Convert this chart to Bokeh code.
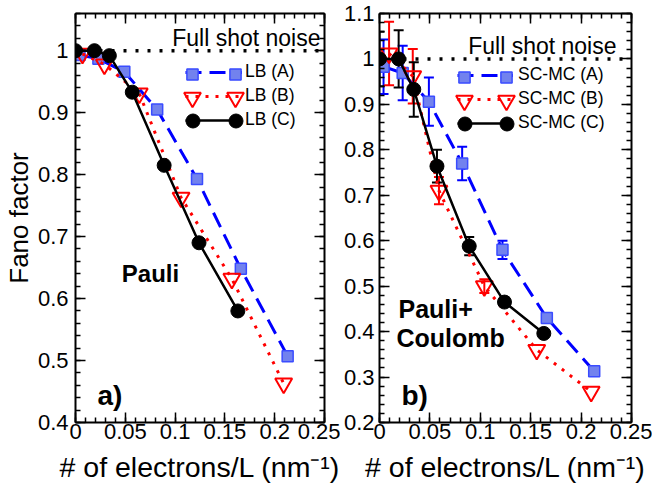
import numpy as np
from bokeh.plotting import figure
from bokeh.models import (Range1d, LinearAxis, FixedTicker, CustomJSTickFormatter, Span, Label,
                          Legend, LegendItem, Whisker, TeeHead, ColumnDataSource)
from bokeh.layouts import row
from bokeh.embed import file_html
from bokeh.resources import INLINE

# ---------------- data ----------------
x_A = [0.004, 0.023, 0.049, 0.082, 0.122, 0.166, 0.213]
x_C = [0.0, 0.019, 0.034, 0.057, 0.089, 0.124, 0.163]
x_B_lb = [0.007, 0.029, 0.064, 0.106, 0.157, 0.209]
x_B_mc = [0.0095, 0.033, 0.059, 0.104, 0.156, 0.210]

# panel a) : LB
lb_A = [0.993, 0.987, 0.966, 0.905, 0.793, 0.648, 0.507]
lb_B = [0.995, 0.978, 0.931, 0.763, 0.632, 0.463]
lb_C = [1.0, 1.0, 0.992, 0.933, 0.815, 0.690, 0.580]

# panel b) : SC-MC with error bars
mc_A = [0.983, 0.969, 0.906, 0.770, 0.580, 0.430, 0.313]
mc_A_err = [0.06, 0.06, 0.053, 0.037, 0.02, 0.0, 0.0]
mc_B = [1.012, 0.962, 0.71, 0.50, 0.36, 0.268]
mc_B_err = [0.07, 0.06, 0.03, 0.015, 0.0, 0.0]
mc_C = [1.0, 1.0, 0.933, 0.764, 0.588, 0.465, 0.396]
mc_C_err = [0.06, 0.063, 0.06, 0.036, 0.02, 0.01, 0.0]

names_a = ["LB (A)", "LB (B)", "LB (C)"]
names_b = ["SC-MC (A)", "SC-MC (B)", "SC-MC (C)"]

x_ticks = [0, 0.05, 0.1, 0.15, 0.2, 0.25]
x_tick_labels = ["0", "0.05", "0.1", "0.15", "0.2", "0.25"]
ya_ticks = [0.4, 0.5, 0.6, 0.7, 0.8, 0.9, 1.0]
ya_tick_labels = ["0.4", "0.5", "0.6", "0.7", "0.8", "0.9", "1"]
yb_ticks = [0.2, 0.3, 0.4, 0.5, 0.6, 0.7, 0.8, 0.9, 1.0, 1.1]
yb_tick_labels = ["0.2", "0.3", "0.4", "0.5", "0.6", "0.7", "0.8", "0.9", "1", "1.1"]

x_title = "# of electrons/L (nm\u207b\u00b9)"
y_title = "Fano factor"

FONT = "Liberation Sans"
BLUE = "#0000ff"
RED = "#ff0000"
SQ_FILL = "#7282ee"
SQ_LINE = "#3a4cff"

FMT_CODE = "const i = t.findIndex(v => Math.abs(v - tick) < 1e-9); return i < 0 ? '' : l[i];"


def style_axis(ax, ticks, minor, labels, show):
    ax.ticker = FixedTicker(ticks=ticks, minor_ticks=minor)
    if show:
        ax.formatter = CustomJSTickFormatter(args=dict(t=ticks, l=labels), code=FMT_CODE)
        ax.major_label_text_font = FONT
        ax.major_label_text_font_size = "22px"
        ax.major_label_text_color = "black"
    else:
        ax.formatter = CustomJSTickFormatter(code="return ''")
        ax.major_label_text_font_size = "0px"
        ax.major_label_standoff = 0
    ax.major_tick_in = 10
    ax.major_tick_out = 0
    ax.minor_tick_in = 5
    ax.minor_tick_out = 0
    ax.axis_line_width = 2
    ax.axis_line_color = "black"
    ax.major_tick_line_width = 1.5
    ax.minor_tick_line_width = 1.5
    ax.major_tick_line_color = "black"
    ax.minor_tick_line_color = "black"
    ax.axis_label_text_font = FONT
    ax.axis_label_text_font_style = "normal"
    ax.axis_label_text_color = "black"


def make_fig(width, ylo, yhi, yt, ytl, bl, br, ylab_standoff):
    p = figure(width=width, height=489, x_range=Range1d(0, 0.25), y_range=Range1d(ylo, yhi),
               output_backend="svg", toolbar_location=None,
               min_border_left=bl, min_border_right=br, min_border_top=13, min_border_bottom=67)
    p.grid.visible = False
    p.outline_line_color = None
    p.background_fill_color = "white"
    p.border_fill_color = "white"
    x_minor = [i * 0.01 for i in range(26)]
    y_minor = [round(ylo + i * 0.02, 4) for i in range(int(round((yhi - ylo) / 0.02)) + 1)]
    style_axis(p.xaxis[0], x_ticks, x_minor, x_tick_labels, True)
    style_axis(p.yaxis[0], yt, y_minor, ytl, True)
    p.xaxis[0].major_label_standoff = 1
    p.xaxis[0].axis_label = x_title
    p.xaxis[0].axis_label_text_font_size = "28.5px"
    p.xaxis[0].axis_label_standoff = 9
    p.yaxis[0].major_label_standoff = ylab_standoff
    top = LinearAxis()
    right = LinearAxis()
    style_axis(top, x_ticks, x_minor, x_tick_labels, False)
    style_axis(right, yt, y_minor, ytl, False)
    p.add_layout(top, "above")
    p.add_layout(right, "right")
    p.add_layout(Span(location=1.0, dimension="width", line_color="black",
                      line_width=3.5, line_dash="3 9"))
    return p


def add_errors(p, xs, ys, es, color):
    keep = [i for i in range(len(xs)) if es[i] > 0]
    src = ColumnDataSource(dict(base=[xs[i] for i in keep],
                                upper=[ys[i] + es[i] for i in keep],
                                lower=[ys[i] - es[i] for i in keep]))
    w = Whisker(base="base", upper="upper", lower="lower", source=src, dimension="height",
                line_color=color, line_width=2,
                upper_head=TeeHead(size=10, line_color=color, line_width=2),
                lower_head=TeeHead(size=10, line_color=color, line_width=2))
    p.add_layout(w)


def add_series(p, xA, yA, xB, yB, xC, yC):
    lA = p.line(xA, yA, line_color=BLUE, line_width=3, line_dash="16 8")
    mA = p.scatter(xA, yA, marker="square", size=11, fill_color=SQ_FILL, line_color=SQ_LINE, line_width=1.5)
    lB = p.line(xB, yB, line_color=RED, line_width=3, line_dash="3 7")
    mB = p.scatter(xB, yB, marker="inverted_triangle", size=17, fill_color="white", fill_alpha=0.0,
                   line_color=RED, line_width=2)
    lC = p.line(xC, yC, line_color="black", line_width=2.5)
    mC = p.scatter(xC, yC, marker="circle", size=14, fill_color="black", line_color="black")
    return [lA, lB, lC], [mA, mB, mC]


def add_legend(p, lines, markers, names, vx, top_y, gw, standoff, xl, xr):
    items = [LegendItem(label=n, renderers=[r]) for n, r in zip(names, lines)]
    leg = Legend(items=items, location=(vx, top_y - 66), glyph_width=gw, glyph_height=20,
                 label_height=20, spacing=3, padding=0, margin=0, label_standoff=standoff,
                 label_text_font=FONT, label_text_font_size="17.5px", label_text_color="black",
                 background_fill_alpha=0, border_line_alpha=0)
    p.add_layout(leg)
    boxes = [28, 42, 35]
    for k, (m, box) in enumerate(zip(markers, boxes)):
        cy = top_y - 10 - 23 * k
        for cx in (xl, xr):
            ml = Legend(items=[LegendItem(label=" ", renderers=[m])],
                        location=(cx - box / 2, cy - box / 2), glyph_width=box, glyph_height=box,
                        label_height=0, label_width=0, label_standoff=0, spacing=0, padding=0, margin=0,
                        label_text_font_size="1px", background_fill_alpha=0, border_line_alpha=0)
            p.add_layout(ml)


def text(p, x, y, s, size, bold=False, align="left", baseline="middle"):
    p.add_layout(Label(x=x, y=y, x_units="screen", y_units="screen", text=s,
                       text_font=FONT, text_font_size=size,
                       text_font_style="bold" if bold else "normal",
                       text_align=align, text_baseline=baseline, text_color="black"))


# ---------------- panel a ----------------
pa = make_fig(340, 0.4, 1.06, ya_ticks, ya_tick_labels, 70, 16, 7)
pa.yaxis[0].axis_label = y_title
pa.yaxis[0].axis_label_text_font_size = "26px"
pa.yaxis[0].axis_label_standoff = 1
la, ma = add_series(pa, x_A, lb_A, x_B_lb, lb_B, x_C, lb_C)
add_legend(pa, la, ma, names_a, 110, 358, 57, 3, 117, 160)
text(pa, 245, 385, "Full shot noise", "23px", align="right")
text(pa, 75, 149, "Pauli", "24px", bold=True, align="center")
text(pa, 22, 27, "a)", "28px", bold=True)

# ---------------- panel b ----------------
pb = make_fig(312, 0.2, 1.1, yb_ticks, yb_tick_labels, 36, 21, 5)
add_errors(pb, x_A, mc_A, mc_A_err, BLUE)
add_errors(pb, x_B_mc, mc_B, mc_B_err, RED)
add_errors(pb, x_C, mc_C, mc_C_err, "black")
lb, mb = add_series(pb, x_A, mc_A, x_B_mc, mc_B, x_C, mc_C)
add_legend(pb, lb, mb, names_b, 78, 354.7, 56, 5, 85, 127)
text(pb, 237, 377, "Full shot noise", "23px", align="right")
text(pb, 19, 114, "Pauli+", "25px", bold=True)
text(pb, 17, 85, "Coulomb", "25px", bold=True)
text(pb, 22, 27, "b)", "28px", bold=True)

layout = row(pa, pb)
open("out.html", "w").write(file_html(layout, INLINE))
